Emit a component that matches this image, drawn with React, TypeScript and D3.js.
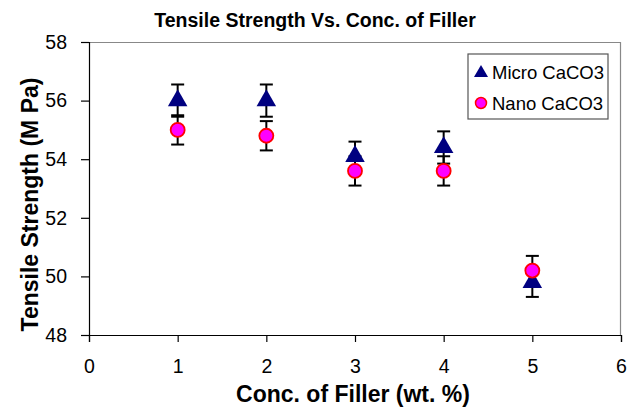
import React, { useRef, useEffect } from 'react';
import * as d3 from 'd3';

const fillerConc = [1, 2, 3, 4, 5];
const microValues = [56.0, 56.0, 54.1, 54.4, 49.8];
const microErrors = [0.55, 0.55, 0.5, 0.55, 0.5];
const nanoValues = [55.0, 54.8, 53.6, 53.6, 50.2];
const nanoErrors = [0.5, 0.5, 0.5, 0.5, 0.5];
const xTicks = [0, 1, 2, 3, 4, 5, 6];
const yTicks = [48, 50, 52, 54, 56, 58];

const W = 627;
const H = 416;
const margin = { top: 42, right: 6, bottom: 81, left: 89 };
const FONT = 'Arial, "Liberation Sans", Helvetica, sans-serif';

const App = () => {
  const svgRef = useRef<SVGSVGElement>(null);

  useEffect(() => {
    if (!svgRef.current) return;
    const root = d3.select(svgRef.current);
    root.selectAll('*').remove();

    const innerW = W - margin.left - margin.right;
    const innerH = H - margin.top - margin.bottom;

    const x = d3.scaleLinear().domain([0, 6]).range([0, innerW]);
    const y = d3.scaleLinear().domain([48, 58]).range([innerH, 0]);

    root.append('rect').attr('width', W).attr('height', H).attr('fill', '#fff');

    const g = root.append('g').attr('transform', `translate(${margin.left},${margin.top})`);

    // top / right frame (gray)
    g.append('path')
      .attr('d', `M0,0.5H${innerW - 0.5}V${innerH}`)
      .attr('fill', 'none')
      .attr('stroke', '#888')
      .attr('stroke-width', 1.2);

    // x axis
    const xAxis = g.append('g')
      .attr('transform', `translate(0,${innerH})`)
      .call(d3.axisBottom(x).tickValues(xTicks).tickSize(7).tickPadding(17).tickFormat(d3.format('d')));
    xAxis.select('.domain').attr('stroke', '#000').attr('stroke-width', 1.2);
    xAxis.selectAll('line').attr('stroke', '#000').attr('stroke-width', 1.2);
    xAxis.selectAll('text').attr('fill', '#000').style('font-family', FONT).style('font-size', '19.5px');

    // y axis
    const yAxis = g.append('g')
      .call(d3.axisLeft(y).tickValues(yTicks).tickSize(8).tickPadding(14).tickFormat(d3.format('d')));
    yAxis.select('.domain').attr('stroke', '#000').attr('stroke-width', 1.2);
    yAxis.selectAll('line').attr('stroke', '#000').attr('stroke-width', 1.2);
    yAxis.selectAll('text').attr('fill', '#000').style('font-family', FONT).style('font-size', '19.5px');

    const series = [
      { name: 'Micro CaCO3', values: microValues, errors: microErrors },
      { name: 'Nano CaCO3', values: nanoValues, errors: nanoErrors },
    ];

    // error bars
    const capW = 6.5;
    series.forEach(s => {
      const eb = g.append('g').attr('stroke', '#000').attr('stroke-width', 2);
      fillerConc.forEach((c, i) => {
        const cx = x(c);
        const top = y(s.values[i] + s.errors[i]);
        const bot = y(s.values[i] - s.errors[i]);
        eb.append('line').attr('x1', cx).attr('x2', cx).attr('y1', top).attr('y2', bot);
        eb.append('line').attr('x1', cx - capW).attr('x2', cx + capW).attr('y1', top).attr('y2', top);
        eb.append('line').attr('x1', cx - capW).attr('x2', cx + capW).attr('y1', bot).attr('y2', bot);
      });
    });

    const triangle = d3.symbol().type(d3.symbolTriangle).size(165);

    // micro markers
    g.append('g').selectAll('path')
      .data(fillerConc)
      .enter()
      .append('path')
      .attr('d', triangle)
      .attr('transform', (d, i) => `translate(${x(d)},${y(microValues[i])})`)
      .attr('fill', '#000080');

    // nano markers
    g.append('g').selectAll('circle')
      .data(fillerConc)
      .enter()
      .append('circle')
      .attr('cx', d => x(d))
      .attr('cy', (d, i) => y(nanoValues[i]))
      .attr('r', 7)
      .attr('fill', '#ff00ff')
      .attr('stroke', '#ff0000')
      .attr('stroke-width', 1.8);

    // legend
    const lg = root.append('g').attr('transform', 'translate(468,54)');
    lg.append('rect')
      .attr('width', 140).attr('height', 65)
      .attr('fill', '#fff').attr('stroke', '#555').attr('stroke-width', 1.2);
    lg.append('path')
      .attr('d', d3.symbol().type(d3.symbolTriangle).size(85)())
      .attr('transform', 'translate(13,19)')
      .attr('fill', '#000080');
    lg.append('circle')
      .attr('cx', 13).attr('cy', 49).attr('r', 5.5)
      .attr('fill', '#ff00ff').attr('stroke', '#ff0000').attr('stroke-width', 1.5);
    lg.selectAll('text.item')
      .data(series)
      .enter()
      .append('text')
      .attr('class', 'item')
      .attr('x', 24)
      .attr('y', (d, i) => 25 + i * 31)
      .attr('fill', '#000')
      .style('font-family', FONT)
      .style('font-size', '18.5px')
      .text(d => d.name);

    // title
    root.append('text')
      .attr('x', margin.left + innerW / 2 - 40)
      .attr('y', 27)
      .attr('text-anchor', 'middle')
      .attr('fill', '#000')
      .style('font-family', FONT)
      .style('font-weight', 'bold')
      .style('font-size', '19.5px')
      .text('Tensile Strength Vs. Conc. of Filler');

    // x label
    root.append('text')
      .attr('x', 353)
      .attr('y', 402)
      .attr('text-anchor', 'middle')
      .attr('fill', '#000')
      .style('font-family', FONT)
      .style('font-weight', 'bold')
      .style('font-size', '23px')
      .text('Conc. of Filler (wt. %)');

    // y label
    root.append('text')
      .attr('transform', `translate(38,${margin.top + innerH / 2 + 16}) rotate(-90)`)
      .attr('text-anchor', 'middle')
      .attr('fill', '#000')
      .style('font-family', FONT)
      .style('font-weight', 'bold')
      .style('font-size', '23px')
      .text('Tensile Strength (M Pa)');
  }, []);

  return (
    <svg
      ref={svgRef}
      width={W}
      height={H}
      style={{ position: 'absolute', left: 0, top: 0, display: 'block' }}
    />
  );
};

export default App;
